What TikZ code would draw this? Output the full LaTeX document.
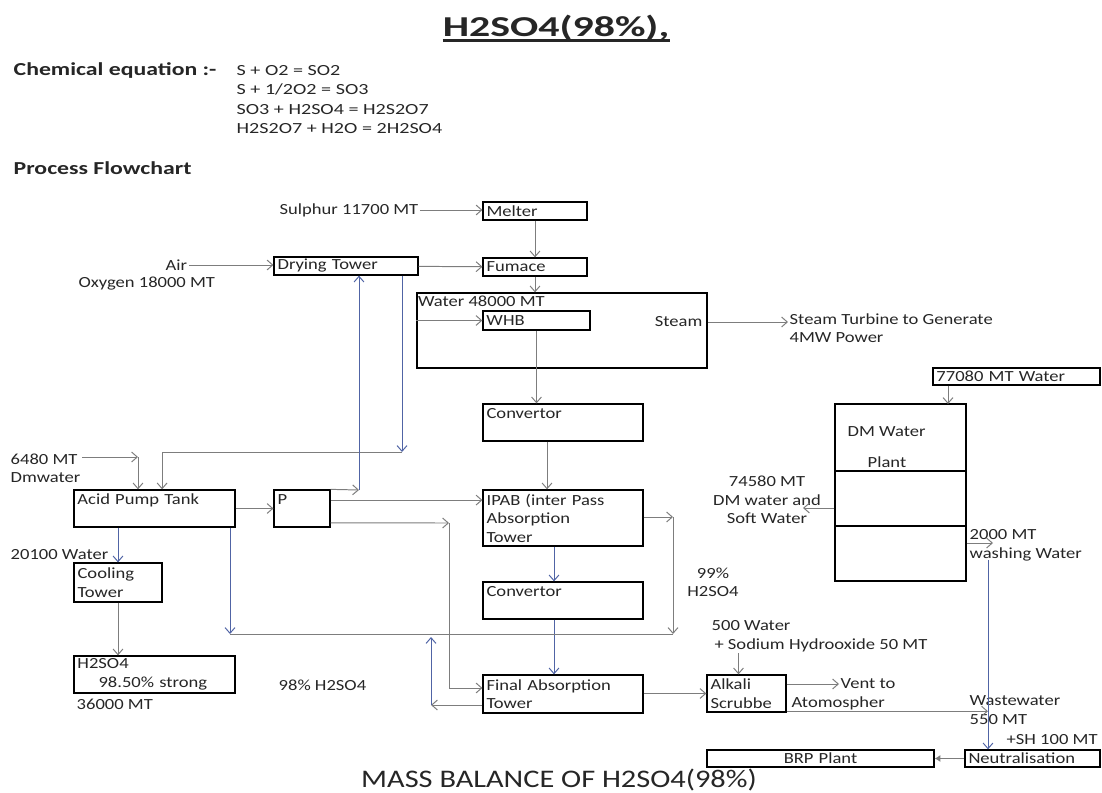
\documentclass[tikz,border=0pt]{standalone}
\usepackage{fontspec}
\setmainfont{Carlito}[FakeStretch=1.2]
\newfontfamily\widefont{Carlito}[FakeStretch=1.3]
\newfontfamily\titlefont{Carlito}[FakeStretch=1.45]
\usetikzlibrary{arrows.meta, positioning}
\definecolor{pipegray}{RGB}{125,125,125}
\definecolor{pipeblue}{RGB}{80,100,165}

\begin{document}
\begin{tikzpicture}[
    x=0.025cm, y=-0.025cm,
    every node/.style={text=black!85},
    box/.style={rectangle, draw=black, line width=0.9pt, fill=white,
                inner xsep=2.5pt, inner ysep=1pt, align=left,
                font=\fontsize{11}{13.1}\selectfont},
    lbl/.style={anchor=west, inner sep=1pt, align=left,
                font=\fontsize{11}{13.1}\selectfont},
    arrow/.style={-{Straight Barb[length=4pt,width=7pt]}, line width=0.7pt, color=pipegray},
    barrow/.style={arrow, color=pipeblue},
    pipe/.style={line width=0.7pt, color=pipegray}
]
\useasboundingbox (0,0) rectangle (1102,793);

% headings
\node[font=\titlefont\bfseries\fontsize{20.5}{24}\selectfont, anchor=base, inner sep=0pt] (title) at (556,37) {H2SO4(98\%),};
\draw[line width=1.8pt, black!85] ([yshift=-2.5pt]title.base west) -- ([yshift=-2.5pt]title.base east);
\node[lbl, font=\widefont\bfseries\fontsize{13}{15}\selectfont] (chem) at (12,71) {Chemical equation :-};
\node[lbl, anchor=north west, font=\widefont\fontsize{11}{13.7}\selectfont] (eqns) at (235,64) {S + O2 = SO2\\S + 1/2O2 = SO3\\SO3 + H2SO4 = H2S2O7\\H2S2O7 + H2O = 2H2SO4};
\node[lbl, font=\widefont\bfseries\fontsize{13}{15}\selectfont] (flowhead) at (12,168) {Process Flowchart};

% sulphur burning and boiler
\node[lbl] (sulphur) at (278,210) {Sulphur 11700 MT};
\node[box, text width=2.42cm, minimum height=0.45cm] (melter) at (535,211) {Melter};
\node[box, text width=2.42cm, minimum height=0.45cm] (fumace) at (535,267) {Fumace};
\node[lbl] (air) at (164,265) {Air};
\node[lbl] (oxygen) at (77,284) {Oxygen 18000 MT};
\node[box, text width=3.42cm, minimum height=0.45cm] (drying) at (346,266) {Drying Tower};
\node[box, minimum width=7.25cm, minimum height=1.875cm, inner sep=0pt,
      label={[lbl, anchor=north west, yshift=-1pt]north west:Water 48000 MT}] (boiler) at (562,330.5) {};
\node[lbl, anchor=east] (steam) at (704,322) {Steam};
\node[box, text width=2.5cm, minimum height=0.475cm] (whb) at (536.5,320.5) {WHB};
\node[lbl, anchor=north west] (turbine) at (788,312) {Steam Turbine to Generate\\4MW Power};

% converters and absorbers
\node[box, text width=3.82cm, minimum height=0.925cm] (conv1) at (563,422.5) {Convertor\\\phantom{X}};
\node[box, text width=3.82cm, minimum height=1.4cm] (ipab) at (563,518) {IPAB (inter Pass\\Absorption\\Tower};
\node[box, text width=3.82cm, minimum height=0.925cm] (conv2) at (563,600.5) {Convertor\\\phantom{X}};
\node[box, text width=3.82cm, minimum height=0.95cm] (fat) at (563,694) {Final Absorption\\Tower};

% acid circuit
\node[box, text width=3.85cm, minimum height=0.925cm] (apt) at (154.5,508.5) {Acid Pump Tank\\\phantom{X}};
\node[box, text width=1.22cm, minimum height=0.925cm] (pbox) at (302,508.5) {P\\\phantom{X}};
\node[box, text width=2.02cm, minimum height=0.975cm] (cooling) at (118,582.5) {Cooling\\Tower};
\node[box, text width=3.85cm, minimum height=0.925cm] (product) at (154.5,674.5) {H2SO4\\\hspace*{15pt}98.50\% strong};
\node[lbl, anchor=north west] (dmw) at (9,452) {6480 MT\\Dmwater};
\node[lbl] (cwater) at (9,555) {20100 Water};
\node[lbl] (prodqty) at (75,704) {36000 MT};
\node[lbl] (acid98) at (277,685) {98\% H2SO4};
\node[lbl, align=center, anchor=center] (acid99) at (713,582) {99\%\\H2SO4};

% scrubber
\node[lbl, anchor=north west] (naoh) at (710,619) {500 Water\\\hspace*{2pt}+ Sodium Hydrooxide 50 MT};
\node[box, text width=1.8cm, minimum height=0.925cm] (alkali) at (746.5,693.5) {Alkali\\Scrubbe};
\node[lbl] (vent) at (839,684) {Vent to};
\node[lbl] (atmos) at (790,703) {Atomospher};

% DM water plant
\node[box, text width=4.0cm, minimum height=0.425cm] (water77) at (1016.5,376.5) {77080 MT Water};
\node[box, minimum width=3.275cm, minimum height=4.425cm, inner sep=0pt] (dmplant) at (900.5,492.5) {};
\draw[line width=0.9pt] (dmplant.west |- 0,471) -- (dmplant.east |- 0,471);
\draw[line width=0.9pt] (dmplant.west |- 0,526) -- (dmplant.east |- 0,526);
\node[lbl] (dmname) at (846,432) {DM Water};
\node[lbl] (dmname2) at (866,462) {Plant};
\node[lbl, align=center, anchor=center] (dmsoft) at (767,500) {74580 MT\\DM water and\\Soft Water};
\node[lbl, anchor=north west] (washing) at (968,528) {2000 MT\\washing Water};
\node[lbl, anchor=north west] (waste) at (968,694) {Wastewater\\550 MT};
\node[lbl] (sh) at (1005,740) {+SH 100 MT};
\node[box, text width=3.2cm, minimum height=0.425cm] (neutral) at (1032.5,758.5) {Neutralisation};
\node[box, text width=5.5cm, minimum height=0.425cm, align=center] (brp) at (820.5,758.5) {BRP Plant};
\node[font=\fontsize{18}{20}\selectfont] (caption) at (559,780) {MASS BALANCE OF H2SO4(98\%)};

% gas line
\draw[arrow] (sulphur) -- (sulphur -| melter.west);
\draw[arrow] (melter) -- (fumace);
\draw[arrow] (air) -- (air -| drying.west);
\draw[arrow] (drying) -- (fumace);
\draw[arrow] (fumace.south) -- (fumace.south |- boiler.north);
\draw[arrow] (boiler.west |- whb.west) -- (whb.west);
\draw[arrow] (whb.south) -- (whb.south |- conv1.north);
\draw[arrow] (boiler.east |- steam.east) -- (turbine.west |- steam.east);
\draw[arrow] ([xshift=-0.4cm]conv1.south) -- ([xshift=-0.4cm]ipab.north);
\draw[barrow] ([xshift=-0.225cm]ipab.south) -- ([xshift=-0.225cm]conv2.north);
\draw[barrow] ([xshift=-0.225cm]conv2.south) -- ([xshift=-0.225cm]fat.north);

% acid loops
\coordinate (dret) at (402,452);
\draw[barrow] (drying.south -| dret) -- (dret);
\draw[arrow] (dret) -| ([xshift=0.19cm]apt.north);
\coordinate (pup) at (359,490);
\draw[arrow] (pbox.north east) -- (pup);
\draw[barrow] (pup) -- (pup |- drying.south);
\coordinate (dmin) at (138,457);
\draw[arrow] (dmw.east |- dmin) -- (dmin);
\draw[arrow] (dmin) -- (dmin |- apt.north);
\draw[arrow] (apt) -- (pbox);
\draw[barrow] (apt.south -| cooling.north) -- (cooling.north);
\draw[arrow] (cooling.south) -- (cooling.south |- product.north);
\coordinate (pout) at ([yshift=0.21cm]pbox.east);
\draw[arrow] (pout) -- (pout -| ipab.west);
\coordinate (plow) at ([yshift=-0.36cm]pbox.east);
\coordinate (pdn) at (449,523);
\coordinate (fin) at ([yshift=0.15cm]fat.west);
\draw[arrow] (plow) -- (pdn);
\draw[arrow] (pdn) |- (fin);
\coordinate (aret) at (230,634);
\draw[barrow] (apt.south -| aret) -- (aret);
\coordinate (iret) at (673,517);
\draw[arrow] (ipab.east |- iret) -- (iret);
\draw[arrow] (iret) -- (iret |- aret);
\draw[pipe] (iret |- aret) -- (aret);
\coordinate (fret) at (431,705);
\coordinate (fup) at (431,637);
\draw[arrow] (fat.west |- fret) -- (fret);
\draw[barrow] (fret) -- (fup);

% scrubber and water
\draw[arrow] (fat.east |- alkali.west) -- (alkali.west);
\coordinate (alkin) at ([xshift=-0.2cm]alkali.north);
\draw[arrow] (alkin |- naoh.south) -- (alkin);
\draw[arrow] (alkali.east |- vent.west) -- (vent.west);
\coordinate (wtop) at (988,560);
\draw[barrow] (wtop) -- (wtop |- neutral.north);
\coordinate (aout) at ([yshift=1pt]alkali.south east);
\draw[arrow] (aout) -- (aout -| wtop);
\coordinate (wout) at (993,543);
\draw[arrow] (dmplant.east |- wout) -- (wout);
\coordinate (dmout) at (803,508);
\draw[arrow] (dmplant.west |- dmout) -- (dmout);
\coordinate (dmtop) at (948,404);
\draw[arrow] (dmtop |- water77.south) -- (dmtop);
\draw[pipe, -{Latex[length=4pt,width=5pt]}] (neutral) -- (brp);
\end{tikzpicture}
\end{document}
